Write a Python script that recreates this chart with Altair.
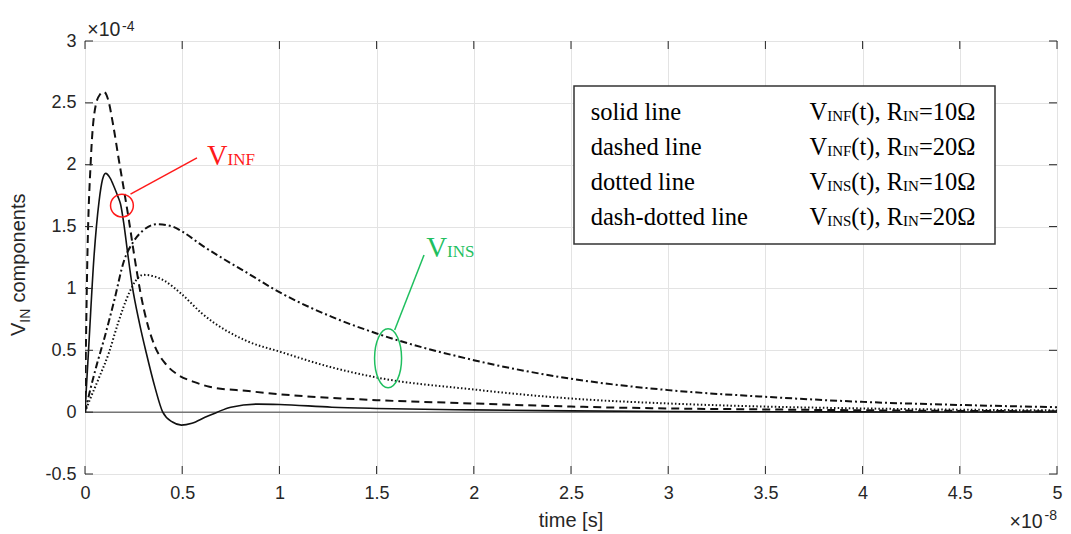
import altair as alt
import pandas as pd

# time in units of 1e-8 s, voltage in units of 1e-4 V
t_inf10 = [0, 0.02, 0.046, 0.072, 0.09, 0.106, 0.13, 0.15, 0.17, 0.183, 0.2, 0.22, 0.243, 0.28, 0.315, 0.36, 0.40,
           0.45, 0.496, 0.55, 0.62, 0.68, 0.75, 0.89, 1.0, 1.27, 1.5, 2.0, 2.5, 3.0, 3.5, 4.0, 4.5, 5.0]
v_inf10 = [0, 0.55, 1.25, 1.7, 1.88, 1.93, 1.89, 1.82, 1.74, 1.68, 1.52, 1.28, 1.02, 0.72, 0.48, 0.2, 0.0,
           -0.08, -0.105, -0.09, -0.04, 0.0, 0.04, 0.065, 0.062, 0.04, 0.03, 0.018, 0.01, 0.005, 0.003, 0.002, 0.001, 0.001]

t_inf20 = [0, 0.012, 0.03, 0.055, 0.078, 0.097, 0.12, 0.145, 0.174, 0.2, 0.226, 0.255, 0.286, 0.32, 0.36, 0.42,
           0.48, 0.56, 0.64, 0.84, 1.0, 1.5, 2.0, 2.5, 3.0, 3.5, 4.0, 4.5, 5.0]
v_inf20 = [0, 1.23, 2.04, 2.48, 2.57, 2.59, 2.52, 2.32, 2.04, 1.8, 1.55, 1.25, 0.96, 0.72, 0.53, 0.38,
           0.3, 0.245, 0.205, 0.17, 0.145, 0.097, 0.07, 0.045, 0.03, 0.022, 0.015, 0.01, 0.007]

t_ins10 = [0, 0.03, 0.07, 0.123, 0.17, 0.226, 0.26, 0.3, 0.35, 0.41, 0.5, 0.6, 0.84, 1.0, 1.25, 1.5, 2.0, 2.5,
           3.0, 3.5, 4.0, 4.5, 5.0]
v_ins10 = [0, 0.12, 0.27, 0.48, 0.72, 0.96, 1.06, 1.11, 1.1, 1.06, 0.95, 0.8, 0.57, 0.49, 0.37, 0.28, 0.183, 0.11,
           0.07, 0.045, 0.03, 0.02, 0.014]

t_ins20 = [0, 0.03, 0.06, 0.1, 0.15, 0.2, 0.25, 0.3, 0.37, 0.45, 0.5, 0.6, 0.84, 1.0, 1.27, 1.5, 2.0, 2.5, 3.0,
           3.5, 4.0, 4.5, 5.0]
v_ins20 = [0, 0.2, 0.38, 0.6, 0.9, 1.22, 1.38, 1.47, 1.52, 1.5, 1.46, 1.35, 1.12, 0.97, 0.77, 0.636, 0.42, 0.27,
           0.178, 0.124, 0.083, 0.058, 0.04]

x_ticks = [0, 0.5, 1, 1.5, 2, 2.5, 3, 3.5, 4, 4.5, 5]
y_ticks = [-0.5, 0, 0.5, 1, 1.5, 2, 2.5, 3]

legend_left = ["solid line", "dashed line", "dotted line", "dash-dotted line"]
legend_sub1 = ["INF", "INF", "INS", "INS"]
legend_val = ["=10Ω", "=20Ω", "=10Ω", "=20Ω"]

W, H = 972, 433
SANS = "Liberation Sans"
SERIF = "Liberation Serif"
AX = "#262626"
RED = "#ff1a1a"
GREEN = "#1fbf5f"

# Times / Liberation Serif advance widths (em) for laying out subscript runs
TW = {"V": .722, "I": .333, "N": .722, "F": .556, "S": .556, "(": .333, "t": .278, ")": .333,
      ",": .25, " ": .25, "R": .667, "=": .564, "0": .5, "1": .5, "2": .5, "Ω": .768}


def run_width(s, size):
    return sum(TW.get(c, .5) for c in s) * size


xs = alt.Scale(domain=[0, 5], nice=False, zero=False)
ys = alt.Scale(domain=[-0.5, 3], nice=False, zero=False)
X = lambda f="t:Q": alt.X(f, scale=xs, title=None)
Y = lambda f="v:Q": alt.Y(f, scale=ys, title=None)

# axes / grid layer
grid_df = pd.DataFrame({"t": x_ticks[:len(y_ticks)], "v": y_ticks})
axes = alt.Chart(grid_df).mark_point(opacity=0).encode(
    x=alt.X("t:Q", scale=xs, title=None,
            axis=alt.Axis(values=x_ticks, grid=True, gridColor="#e3e3e3", ticks=False,
                          domain=False, labelFont=SANS, labelFontSize=18, labelColor=AX,
                          labelPadding=10, labelFlush=False, labelOverlap=False,
                          labelExpr="'' + datum.value", title=None)),
    y=alt.Y("v:Q", scale=ys, title=None,
            axis=alt.Axis(values=y_ticks, grid=True, gridColor="#e3e3e3", ticks=False,
                          domain=False, labelFont=SANS, labelFontSize=18, labelColor=AX,
                          labelPadding=9, labelOverlap=False,
                          labelExpr="'' + datum.value", title=None)),
)

xt = pd.DataFrame({"t": x_ticks})
yt = pd.DataFrame({"v": y_ticks})
tick_x_bot = alt.Chart(xt).mark_rule(color=AX, strokeWidth=1).encode(
    x=X(), y=alt.value(H), y2=alt.value(H - 8))
tick_x_top = alt.Chart(xt).mark_rule(color=AX, strokeWidth=1).encode(
    x=X(), y=alt.value(0), y2=alt.value(8))
tick_y_l = alt.Chart(yt).mark_rule(color=AX, strokeWidth=1).encode(
    y=Y(), x=alt.value(0), x2=alt.value(8))
tick_y_r = alt.Chart(yt).mark_rule(color=AX, strokeWidth=1).encode(
    y=Y(), x=alt.value(W), x2=alt.value(W - 8))

zero_line = alt.Chart(pd.DataFrame({"v": [0]})).mark_rule(color="#3a3a3a", strokeWidth=1).encode(y=Y())


def curve(t, v, dash, width):
    df = pd.DataFrame({"t": t, "v": v})
    kw = dict(color="#111111", strokeWidth=width, interpolate="monotone", clip=True, strokeCap="butt")
    if dash:
        kw["strokeDash"] = dash
    return alt.Chart(df).mark_line(**kw).encode(x=X(), y=Y())


c1 = curve(t_inf10, v_inf10, None, 1.6)
c2 = curve(t_inf20, v_inf20, [8, 5], 2)
c3 = curve(t_ins10, v_ins10, [1.5, 2.2], 2)
c4 = curve(t_ins20, v_ins20, [7, 3, 2, 3], 2)


def ptext(s, x, y, size, font=SANS, color=AX, angle=0, align="left"):
    kw = dict(font=font, fontSize=size, color=color, align=align, baseline="alphabetic")
    if angle:
        kw["angle"] = angle
    return alt.Chart(pd.DataFrame({"s": [s]})).mark_text(**kw).encode(
        x=alt.value(x), y=alt.value(y), text="s:N")


def dtext(s, t, v, size, font=SERIF, color="black"):
    return alt.Chart(pd.DataFrame({"s": [s], "t": [t], "v": [v]})).mark_text(
        font=font, fontSize=size, color=color, align="left", baseline="alphabetic").encode(
        x=X(), y=Y(), text="s:N")


# legend box
box = alt.Chart(pd.DataFrame({"a": [0]})).mark_rect(fill="white", stroke="#333333", strokeWidth=1.5).encode(
    x=alt.value(489), x2=alt.value(910), y=alt.value(45), y2=alt.value(203))

legend_layers = []
rows_y = [79, 114, 149, 184]
BIG, SUB = 24.5, 15
for i in range(4):
    y = rows_y[i]
    legend_layers.append(ptext(legend_left[i], 505.7, y, BIG, SERIF, "black"))
    x = 724.5
    for seg, sub in [("V", False), (legend_sub1[i], True), ("(t), R", False), ("IN", True), (legend_val[i], False)]:
        size = SUB if sub else BIG
        legend_layers.append(ptext(seg, x, y + (1 if sub else 0), size, SERIF, "black"))
        x += run_width(seg, size)

# annotations
red_circle = alt.Chart(pd.DataFrame({"t": [0.19], "v": [1.67]})).mark_point(
    shape="circle", size=520, filled=False, stroke=RED, strokeWidth=1.5, opacity=1).encode(x=X(), y=Y())
red_line = alt.Chart(pd.DataFrame({"t": [0.234], "v": [1.762], "t2": [0.576], "v2": [2.056]})).mark_rule(
    color=RED, strokeWidth=1.5).encode(x=X(), y=Y(), x2="t2:Q", y2="v2:Q")
red_v = dtext("V", 0.627, 2.0, 28.5, SERIF, RED)
red_sub = dtext("INF", 0.733, 2.0, 17, SERIF, RED)

ellipse = "M -0.458,0 A 0.458,1 0 1,1 0.458,0 A 0.458,1 0 1,1 -0.458,0 Z"
green_ell = alt.Chart(pd.DataFrame({"t": [1.559], "v": [0.435]})).mark_point(
    shape=ellipse, size=3481, filled=False, stroke=GREEN, strokeWidth=1.5, opacity=1).encode(x=X(), y=Y())
green_line = alt.Chart(pd.DataFrame({"t": [1.593], "v": [0.664], "t2": [1.744], "v2": [1.27]})).mark_rule(
    color=GREEN, strokeWidth=1.5).encode(x=X(), y=Y(), x2="t2:Q", y2="v2:Q")
green_v = dtext("V", 1.755, 1.256, 29, SERIF, GREEN)
green_sub = dtext("INS", 1.862, 1.256, 17, SERIF, GREEN)

# axis titles and exponents
labels = [
    ptext("time [s]", W / 2, 486, 20, SANS, AX, align="center"),
    ptext("V", -60, 295, 20, SANS, AX, angle=270),
    ptext("IN", -55, 281.7, 14, SANS, AX, angle=270),
    ptext("components", -60, 261.5, 20, SANS, AX, angle=270),
    ptext("×10", 2.3, -5, 19.5, SANS, AX),
    ptext("-4", 37, -10, 14, SANS, AX),
    ptext("×10", 924.5, 487, 19.5, SANS, AX),
    ptext("-8", 959.5, 478.6, 14, SANS, AX),
]

chart = alt.layer(
    axes, zero_line, c1, c2, c3, c4, tick_x_bot, tick_x_top, tick_y_l, tick_y_r,
    box, *legend_layers,
    red_circle, red_line, red_v, red_sub, green_ell, green_line, green_v, green_sub,
    *labels,
).properties(
    width=W, height=H,
    autosize=alt.AutoSizeParams(type="none"),
    padding={"left": 77, "top": 33, "right": 6, "bottom": 60},
    background="white",
).configure_view(stroke=AX, strokeWidth=1)

chart.save("out.html", embed_options={"renderer": "svg", "actions": False})
